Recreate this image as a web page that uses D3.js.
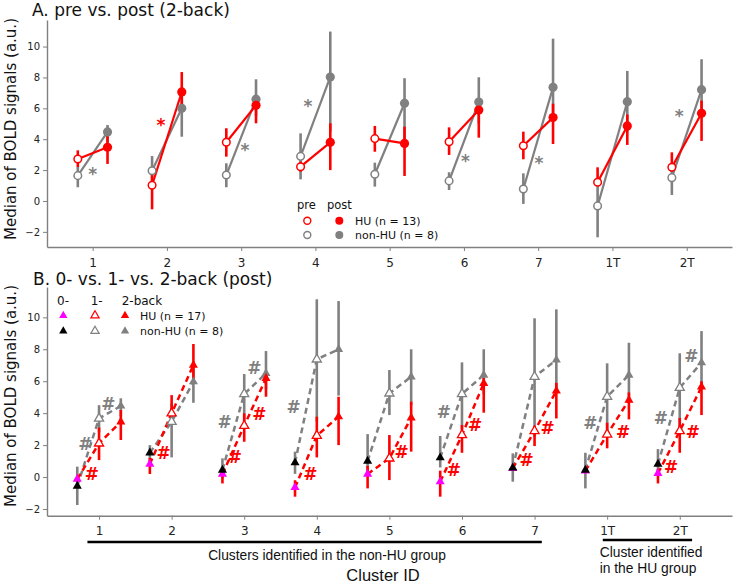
<!DOCTYPE html>
<html><head><meta charset="utf-8">
<script src="https://cdn.jsdelivr.net/npm/d3@7"></script>
<style>body{margin:0;background:#fff}svg{display:block}</style>
</head><body>
<svg id="c" width="736" height="584"></svg>
<script>
// ---------- data ----------
const clusters = ["1","2","3","4","5","6","7","1T","2T"];
const yTicks = [-2, 0, 2, 4, 6, 8, 10];

// Panel A (2-back, pre vs post)
const preHU     = [2.72, 1.02, 3.80, 2.22, 4.04, 3.84, 3.58, 1.21, 2.18];
const preHULo   = [2.20, -0.54, 2.87, 1.90, 3.19, 2.98, 2.70, 1.00, 1.90];
const preHUHi   = [3.28, 1.90, 4.71, 2.55, 4.86, 4.77, 4.49, 2.18, 3.15];
const postHU    = [3.48, 7.06, 6.20, 3.80, 3.73, 5.89, 5.40, 4.86, 5.68];
const postHULo  = [2.40, 6.00, 5.03, 2.00, 1.62, 4.10, 3.69, 3.63, 3.89];
const postHUHi  = [4.27, 8.35, 6.50, 5.03, 4.81, 6.30, 6.30, 5.60, 6.50];
const preNon    = [1.64, 1.96, 1.68, 2.89, 1.73, 1.30, 0.78, -0.32, 1.51];
const preNonLo  = [0.89, 1.20, 0.89, 1.40, 0.93, 0.71, -0.19, -2.35, 0.39];
const preNonHi  = [2.20, 2.91, 2.44, 4.38, 2.48, 1.86, 1.79, 1.10, 2.00];
const postNon   = [4.47, 6.00, 6.59, 8.03, 6.33, 6.41, 7.36, 6.43, 7.21];
const postNonLo = [3.80, 4.16, 5.50, 4.50, 4.00, 5.00, 5.50, 4.50, 5.50];
const postNonHi = [4.92, 6.90, 7.88, 10.97, 7.95, 8.01, 10.51, 8.42, 9.18];
// significance stars: [cluster index, offset, value, group]
const starsA = [[0, 0.0, 1.96, "non"], [1, -0.08, 5.14, "HU"], [2, 0.05, 3.48, "non"],
                [3, -0.10, 6.33, "non"], [5, 0.02, 2.77, "non"], [6, 0.01, 2.66, "non"],
                [8, -0.10, 5.68, "non"]];

// Panel B (post: 0- vs 1- vs 2-back)
const zeroHU    = [-0.13, 0.81, 0.19, -0.65, 0.19, -0.29, 0.55, 0.38, 0.23];
const zeroHULo  = [-0.30, 0.19, -0.40, -1.23, -0.71, -1.23, 0.40, 0.25, -0.40];
const zeroHUHi  = [0.05, 1.20, 0.35, -0.20, 0.70, 0.40, 0.70, 0.55, 0.50];
const zeroNon   = [-0.56, 1.52, 0.44, 0.90, 1.00, 1.21, 0.58, 0.44, 0.81];
const zeroNonLo = [-1.75, 0.90, -0.10, 0.20, 0.30, 0.60, -0.29, -0.71, 0.20];
const zeroNonHi = [0.65, 2.00, 1.17, 1.59, 2.69, 2.57, 1.48, 1.52, 1.75];
const oneHU     = [2.11, 3.99, 3.21, 2.59, 1.17, 2.63, 2.88, 2.67, 2.88];
const oneHULo   = [1.06, 3.50, 2.21, 1.23, -0.19, 1.52, 1.94, 1.80, 1.52];
const oneHUHi   = [3.10, 5.13, 3.99, 3.78, 2.63, 3.26, 3.20, 3.40, 3.70];
const oneNon    = [3.67, 3.46, 5.20, 7.37, 5.24, 5.20, 6.28, 5.03, 5.59];
const oneNonLo  = [2.80, 1.23, 3.50, 3.50, 3.88, 3.00, 2.50, 2.50, 3.00];
const oneNonHi  = [4.50, 4.60, 6.45, 11.13, 6.70, 7.18, 9.94, 7.12, 7.75];
const twoHU     = [3.46, 7.01, 6.18, 3.78, 3.71, 5.87, 5.40, 4.82, 5.65];
const twoHULo   = [2.32, 6.00, 5.03, 2.00, 1.59, 4.03, 3.67, 3.61, 3.88];
const twoHUHi   = [4.20, 8.33, 6.40, 5.03, 4.72, 6.20, 5.90, 5.30, 6.00];
const twoNon    = [4.45, 5.97, 6.49, 8.00, 6.28, 6.39, 7.33, 6.39, 7.16];
const twoNonLo  = [3.80, 4.65, 5.50, 5.10, 4.50, 5.20, 5.50, 5.00, 5.50];
const twoNonHi  = [4.93, 6.90, 7.89, 11.02, 8.00, 8.00, 10.50, 8.41, 9.14];
// "#" marks: [cluster index, offset, value, group]
const hashB = [[0,-0.19,2.07,"non"],[0,-0.10,0.23,"HU"],[0,0.13,4.61,"non"],
               [1,-0.11,1.52,"HU"],
               [2,-0.27,3.46,"non"],[2,-0.13,1.27,"HU"],[2,0.14,6.81,"non"],[2,0.21,3.94,"HU"],
               [3,-0.32,4.40,"non"],[3,-0.09,0.23,"HU"],
               [4,0.17,1.58,"HU"],
               [5,-0.25,4.09,"non"],[5,-0.11,0.48,"HU"],[5,0.18,3.26,"HU"],
               [6,-0.11,1.06,"HU"],[6,0.18,3.09,"HU"],
               [7,-0.23,3.40,"non"],[7,0.22,2.84,"HU"],
               [8,-0.26,3.71,"non"],[8,-0.12,0.64,"HU"],[8,0.16,7.58,"non"],[8,0.18,2.84,"HU"]];

// ---------- drawing ----------
const RED = "#ff0000", GRAY = "#808080", MAG = "#ff00ff", BLK = "#000000";
const FONT = "DejaVu Sans, Verdana, sans-serif";
const ARIAL = "Liberation Sans, Arial, sans-serif";
const svg = d3.select("#c");
const idx = d3.range(clusters.length);
const col = g => g === "HU" ? RED : GRAY;

const xA = d3.scaleLinear().domain([0.385, 9.61]).range([47, 732]);
const yA = d3.scaleLinear().domain([-2.98, 11.72]).range([247, 20]);
const xB = d3.scaleLinear().domain([0.283, 9.72]).range([47, 732]);
const yB = d3.scaleLinear().domain([-2.42, 11.9]).range([515.7, 287]);

function drawAxes(x, y, xLabelSize) {
  const ga = svg.append("g").attr("transform", `translate(0,${y.range()[0]})`)
    .call(d3.axisBottom(x).tickValues(d3.range(1, 10)).tickFormat(d => clusters[d - 1])
      .tickSize(4).tickPadding(7).tickSizeOuter(0));
  ga.select(".domain").attr("stroke", GRAY).attr("stroke-width", 1.4);
  ga.selectAll(".tick line").attr("stroke", GRAY).attr("stroke-width", 1);
  ga.selectAll(".tick text").attr("font-family", FONT).attr("font-size", xLabelSize).attr("fill", "#222");
  const gl = svg.append("g").attr("transform", `translate(${x.range()[0]},0)`)
    .call(d3.axisLeft(y).tickValues(yTicks).tickSize(4).tickPadding(3).tickSizeOuter(0));
  gl.select(".domain").attr("stroke", GRAY).attr("stroke-width", 1.4);
  gl.selectAll(".tick line").attr("stroke", GRAY).attr("stroke-width", 1);
  gl.selectAll(".tick text").attr("font-family", FONT).attr("font-size", 10).attr("fill", "#222");
}

function errbars(g, x, y, xs, lo, hi, color) {
  g.selectAll(null).data(idx).join("line")
    .attr("x1", i => x(xs(i))).attr("x2", i => x(xs(i)))
    .attr("y1", i => y(lo[i])).attr("y2", i => y(hi[i]))
    .attr("stroke", color).attr("stroke-width", 2.6);
}

// ===== Panel A =====
drawAxes(xA, yA, 12);
const pA = svg.append("g");
const preX = i => i + 1 - 0.2, postX = i => i + 1 + 0.2;
errbars(pA, xA, yA, preX, preNonLo, preNonHi, GRAY);
errbars(pA, xA, yA, postX, postNonLo, postNonHi, GRAY);
errbars(pA, xA, yA, preX, preHULo, preHUHi, RED);
errbars(pA, xA, yA, postX, postHULo, postHUHi, RED);
[[preNon, postNon, GRAY], [preHU, postHU, RED]].forEach(([a, b, c]) => {
  pA.selectAll(null).data(idx).join("line")
    .attr("x1", i => xA(preX(i))).attr("y1", i => yA(a[i]))
    .attr("x2", i => xA(postX(i))).attr("y2", i => yA(b[i]))
    .attr("stroke", c).attr("stroke-width", 2.2);
});
[[preNon, postNon, GRAY], [preHU, postHU, RED]].forEach(([a, b, c]) => {
  pA.selectAll(null).data(idx).join("circle")
    .attr("cx", i => xA(preX(i))).attr("cy", i => yA(a[i])).attr("r", 3.8)
    .attr("fill", "#fff").attr("stroke", c).attr("stroke-width", 1.5);
  pA.selectAll(null).data(idx).join("circle")
    .attr("cx", i => xA(postX(i))).attr("cy", i => yA(b[i])).attr("r", 4.6)
    .attr("fill", c);
});
pA.selectAll(null).data(starsA).join("text")
  .attr("x", d => xA(d[0] + 1 + d[1])).attr("y", d => yA(d[2]) + 9)
  .attr("text-anchor", "middle").attr("font-family", FONT).attr("font-weight", "bold")
  .attr("font-size", 17).attr("fill", d => col(d[3])).text("*");

// Legend A
const lgA = svg.append("g").attr("font-family", FONT);
lgA.append("text").attr("x", 297).attr("y", 209).attr("font-size", 11.5).attr("fill", "#111").text("pre");
lgA.append("text").attr("x", 327).attr("y", 209).attr("font-size", 11.5).attr("fill", "#111").text("post");
[["HU (n = 13)", RED, 220.7], ["non-HU (n = 8)", GRAY, 235]].forEach(([t, c, yy]) => {
  lgA.append("circle").attr("cx", 307.3).attr("cy", yy).attr("r", 3.5).attr("fill", "#fff").attr("stroke", c).attr("stroke-width", 1.4);
  lgA.append("circle").attr("cx", 339.3).attr("cy", yy).attr("r", 4).attr("fill", c);
  lgA.append("text").attr("x", 355).attr("y", yy + 4).attr("font-size", 11).attr("fill", "#111").text(t);
});

// Titles and y labels
svg.append("text").attr("x", 32).attr("y", 16).attr("font-family", FONT).attr("font-size", 17).attr("fill", "#111")
  .text("A. pre vs. post (2-back)");
svg.append("text").attr("x", 33).attr("y", 285).attr("font-family", FONT).attr("font-size", 17).attr("fill", "#111")
  .text("B. 0- vs. 1- vs. 2-back (post)");
[[129], [396]].forEach(([cy]) => {
  svg.append("text").attr("transform", `translate(15.5,${cy}) rotate(-90)`)
    .attr("text-anchor", "middle").attr("font-family", FONT).attr("font-size", 15).attr("fill", "#111")
    .text("Median of BOLD signals (a.u.)");
});

// ===== Panel B =====
drawAxes(xB, yB, 12);
const pB = svg.append("g");
const x0 = i => i + 1 - 0.3, x1 = i => i + 1, x2 = i => i + 1 + 0.3;
errbars(pB, xB, yB, x0, zeroNonLo, zeroNonHi, GRAY);
errbars(pB, xB, yB, x1, oneNonLo, oneNonHi, GRAY);
errbars(pB, xB, yB, x2, twoNonLo, twoNonHi, GRAY);
errbars(pB, xB, yB, x0, zeroHULo, zeroHUHi, RED);
errbars(pB, xB, yB, x1, oneHULo, oneHUHi, RED);
errbars(pB, xB, yB, x2, twoHULo, twoHUHi, RED);
const dline = d3.line().x(d => xB(d[0])).y(d => yB(d[1]));
[[zeroNon, oneNon, twoNon, GRAY], [zeroHU, oneHU, twoHU, RED]].forEach(([a, b, c, colr]) => {
  pB.selectAll(null).data(idx).join("path")
    .attr("d", i => dline([[x0(i), a[i]], [x1(i), b[i]], [x2(i), c[i]]]))
    .attr("fill", "none").attr("stroke", colr).attr("stroke-width", 2.5).attr("stroke-dasharray", "6,4");
});
const tri = d3.symbol().type(d3.symbolTriangle).size(36);
function tris(xs, vals, fill, stroke) {
  pB.selectAll(null).data(idx).join("path")
    .attr("d", tri).attr("transform", i => `translate(${xB(xs(i))},${yB(vals[i])})`)
    .attr("fill", fill).attr("stroke", stroke || "none").attr("stroke-width", stroke ? 1.3 : 0);
}
tris(x0, zeroHU, MAG);
tris(x0, zeroNon, BLK);
tris(x1, oneNon, "#fff", GRAY);
tris(x2, twoNon, GRAY);
tris(x1, oneHU, "#fff", RED);
tris(x2, twoHU, RED);
pB.selectAll(null).data(hashB).join("text")
  .attr("x", d => xB(d[0] + 1 + d[1])).attr("y", d => yB(d[2]) + 6.2)
  .attr("text-anchor", "middle").attr("font-family", FONT).attr("font-weight", "bold")
  .attr("font-size", 17).attr("fill", d => col(d[3])).text("#");

// Legend B
const lgB = svg.append("g").attr("font-family", FONT);
[["0-", 57], ["1-", 90.7], ["2-back", 121.7]].forEach(([t, xx]) => {
  lgB.append("text").attr("x", xx).attr("y", 305).attr("font-size", 12).attr("fill", "#111").text(t);
});
const trL = d3.symbol().type(d3.symbolTriangle).size(30);
[["HU (n = 17)", MAG, RED, 315.5], ["non-HU (n = 8)", BLK, GRAY, 331]].forEach(([t, c0, c, yy]) => {
  lgB.append("path").attr("d", trL).attr("transform", `translate(63.3,${yy})`).attr("fill", c0);
  lgB.append("path").attr("d", trL).attr("transform", `translate(95,${yy})`).attr("fill", "#fff").attr("stroke", c).attr("stroke-width", 1.2);
  lgB.append("path").attr("d", trL).attr("transform", `translate(125,${yy})`).attr("fill", c);
  lgB.append("text").attr("x", 140).attr("y", yy + 4).attr("font-size", 11).attr("fill", "#111").text(t);
});

// Group annotations under panel B
svg.append("line").attr("x1", xB(1 - 0.16)).attr("x2", xB(7 + 0.1)).attr("y1", 542).attr("y2", 542)
  .attr("stroke", "#000").attr("stroke-width", 2.4);
svg.append("line").attr("x1", xB(8 - 0.06)).attr("x2", xB(9 + 0.17)).attr("y1", 540).attr("y2", 540)
  .attr("stroke", "#000").attr("stroke-width", 2.4);
svg.append("text").attr("x", 327).attr("y", 560).attr("text-anchor", "middle")
  .attr("font-family", ARIAL).attr("font-size", 13.8).attr("fill", "#111")
  .text("Clusters identified in the non-HU group");
svg.append("text").attr("x", 599.7).attr("y", 556.5).attr("font-family", ARIAL).attr("font-size", 13.8).attr("fill", "#111")
  .text("Cluster identified");
svg.append("text").attr("x", 599.7).attr("y", 573.3).attr("font-family", ARIAL).attr("font-size", 13.8).attr("fill", "#111")
  .text("in the HU group");
svg.append("text").attr("x", 383).attr("y", 581).attr("text-anchor", "middle")
  .attr("font-family", ARIAL).attr("font-size", 16.5).attr("fill", "#111").text("Cluster ID");
</script>
</body></html>
